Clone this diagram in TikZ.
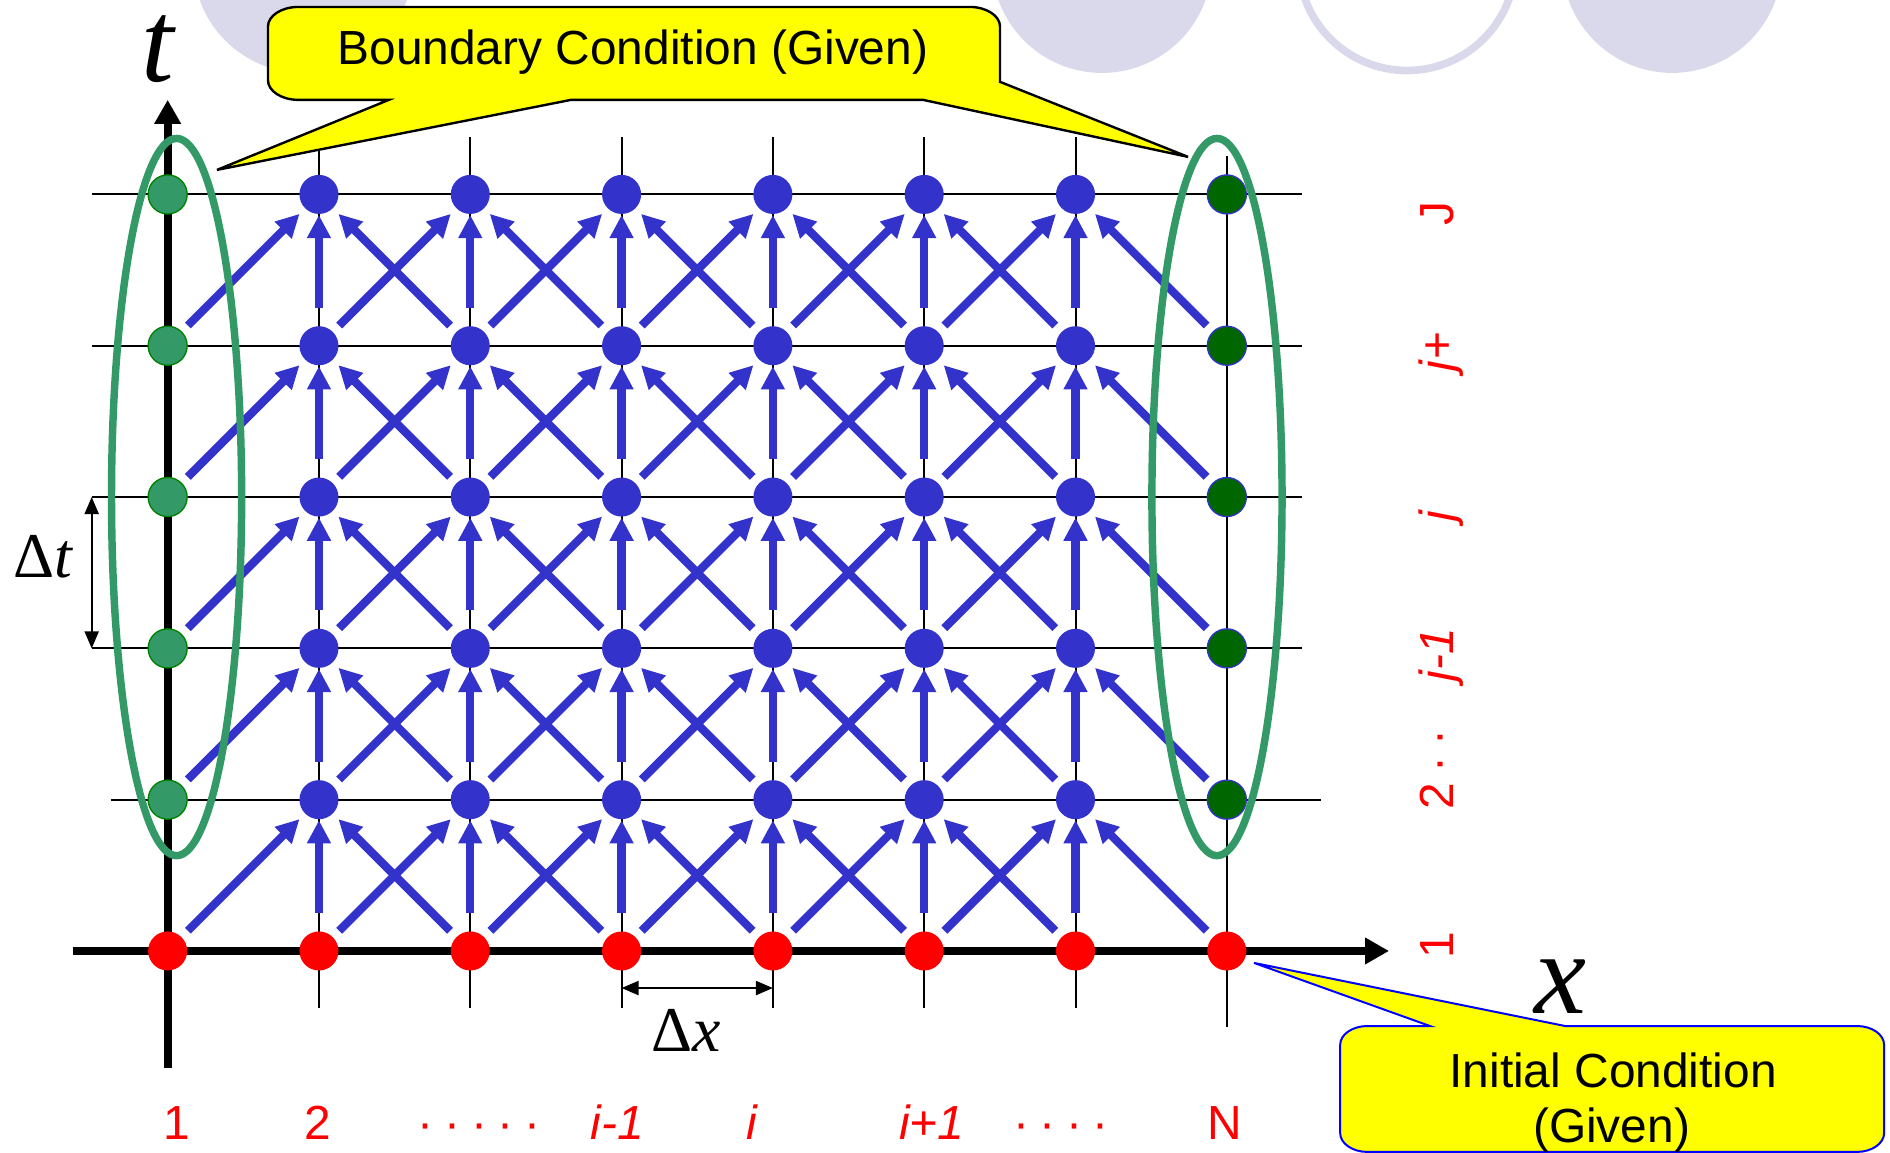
\documentclass[tikz,border=0pt]{standalone}
\usepackage{fontspec}
\setmainfont{Liberation Sans}
\newfontfamily\timesfont{Liberation Serif}
\usetikzlibrary{arrows.meta}
\definecolor{nodeblue}{HTML}{3333CC}
\definecolor{bcgreen}{HTML}{339966}
\definecolor{bcedge}{HTML}{008000}
\definecolor{bcdark}{HTML}{006600}
\definecolor{deco}{HTML}{DAD9EC}
\definecolor{note}{HTML}{FFFF00}
\definecolor{noteblue}{HTML}{0000FF}
\begin{document}
\begin{tikzpicture}[x=2cm,y=2cm,
  gridpt/.style={circle,inner sep=0pt,outer sep=0pt,minimum size=0.516cm},
  interior/.style={gridpt,fill=nodeblue},
  initpt/.style={gridpt,fill=red},
  leftpt/.style={gridpt,fill=bcgreen,draw=bcedge,line width=0.5pt},
  rightpt/.style={gridpt,fill=bcdark,draw=nodeblue,line width=0.5pt},
  flow/.style={nodeblue,line width=3.1pt,-{Triangle[length=8.7pt,width=8.5pt]}},
  diag/.style={flow,shorten <=3.4pt,shorten >=3pt},
  vert/.style={flow,shorten <=7pt,shorten >=0.4pt},
  gridline/.style={line width=0.75pt},
  axis/.style={line width=2.9pt,-{Triangle[length=9pt,width=9.5pt]}},
  dimline/.style={line width=0.7pt,{Triangle[length=6.4pt,width=5.3pt]}-{Triangle[length=6.4pt,width=5.3pt]}},
  bc/.style={bcgreen,line width=2.8pt},
  lbl/.style={red,inner sep=0pt,font=\fontsize{18}{18}\selectfont},
  rowlbl/.style={lbl,rotate=90,anchor=base west},
  axlbl/.style={inner sep=0pt,font=\timesfont\fontsize{44}{44}\selectfont\itshape},
  delta/.style={font=\timesfont\fontsize{24}{24}\selectfont},
  notetext/.style={inner sep=0pt,anchor=base,font=\fontsize{18}{18}\selectfont}]
  \useasboundingbox (-1.108,-1.335) rectangle (11.383,6.285);
  \clip (-1.108,-1.335) rectangle (11.383,6.285);

  \fill[deco] (0.896,6.53) circle [radius=0.727];
  \fill[deco] (6.175,6.53) circle [radius=0.727];
  \draw[deco,line width=2.9pt] (8.191,6.536) circle [radius=0.717];
  \fill[deco] (9.943,6.53) circle [radius=0.727];

  \foreach \j in {2,...,5} \draw[gridline] (-0.502,\j) -- (7.497,\j);
  \draw[gridline] (-0.375,1) -- (7.62,1);
  \foreach \i in {1,...,6} \draw[gridline] (\i,-0.377) -- (\i,5.38);
  \draw[gridline] (7,-0.502) -- (7,5.254);

  \draw[axis] (-0.628,0) -- (8.072,0);
  \draw[axis] (0,-0.773) -- (0,5.625);

  \foreach \i in {0,...,7} \node[initpt] (u-\i-0) at (\i,0) {};
  \foreach \j in {1,...,5} {
    \node[leftpt] (u-0-\j) at (0,\j) {};
    \node[rightpt] (u-7-\j) at (7,\j) {};
    \foreach \i in {1,...,6} \node[interior] (u-\i-\j) at (\i,\j) {};
  }

  \foreach \j in {1,...,5} {
    \pgfmathtruncatemacro{\jb}{\j-1}
    \foreach \i in {1,...,6} {
      \pgfmathtruncatemacro{\ia}{\i-1}
      \pgfmathtruncatemacro{\ic}{\i+1}
      \draw[vert] (u-\i-\jb) -- (u-\i-\j);
      \draw[diag] (u-\ia-\jb) -- (u-\i-\j);
      \draw[diag] (u-\ic-\jb) -- (u-\i-\j);
    }
  }

  \draw[bc] (0.059,3) ellipse [x radius=0.43,y radius=2.37];
  \draw[bc] (6.935,3) ellipse [x radius=0.43,y radius=2.37];

  \coordinate (dt-lo) at (-0.502,2);
  \coordinate (dt-hi) at (-0.502,3);
  \draw[dimline] (dt-lo) -- (dt-hi);
  \node[delta] (dt) at (-0.818,2.604) {Δ\textit{t}};
  \coordinate (dx-l) at (3,-0.245);
  \coordinate (dx-r) at (4,-0.245);
  \draw[dimline] (dx-l) -- (dx-r);
  \node[delta] (dx) at (3.427,-0.522) {Δ\textit{x}};

  \node[axlbl] (tlab) at (-0.064,5.96) {t};
  \node[axlbl] (xlab) at (9.202,-0.238) {x};

  \node[lbl,anchor=base] (c-1) at (0.063,-1.249) {1};
  \node[lbl,anchor=base] (c-2) at (0.994,-1.249) {2};
  \node[lbl,anchor=base] (c-dl) at (2.058,-1.249) {·\hspace{4pt}·\hspace{4pt}·\hspace{4pt}·\hspace{4pt}·};
  \node[lbl,anchor=base] (c-im) at (2.97,-1.249) {\textit{i-1}};
  \node[lbl,anchor=base] (c-i) at (3.862,-1.249) {\textit{i}};
  \node[lbl,anchor=base] (c-ip) at (5.051,-1.249) {\textit{i+1}};
  \node[lbl,anchor=base] (c-dr) at (5.904,-1.249) {·\hspace{4pt}·\hspace{4pt}·\hspace{4pt}·};
  \node[lbl,anchor=base] (c-n) at (6.988,-1.249) {N};

  \node[rowlbl] (r-1) at (8.495,-0.053) {1};
  \node[rowlbl] (r-2) at (8.495,0.932) {2\hspace{4pt}·\hspace{4pt}·};
  \node[rowlbl] (r-jm) at (8.495,1.778) {\textit{j-1}};
  \node[rowlbl] (r-j) at (8.495,2.835) {\textit{j}};
  \node[rowlbl] (r-jp) at (8.495,3.827) {\textit{j}+};
  \node[rowlbl] (r-jj) at (8.495,4.792) {J};

  \draw[fill=note,line width=0.9pt] (0.863,6.239) -- (5.301,6.239)
    arc[start angle=90,end angle=0,x radius=0.2,y radius=0.13]
    -- (5.501,5.744) -- (6.744,5.248) -- (4.992,5.625) -- (2.666,5.625)
    -- (0.326,5.162) -- (1.462,5.625) -- (0.863,5.625)
    arc[start angle=270,end angle=180,x radius=0.2,y radius=0.13]
    -- (0.663,6.109)
    arc[start angle=180,end angle=90,x radius=0.2,y radius=0.13] -- cycle;
  \node[notetext] (bcnote) at (3.075,5.856) {Boundary Condition (Given)};

  \draw[fill=note,draw=noteblue,line width=0.75pt] (7.929,-0.496) -- (8.343,-0.496)
    -- (7.18,-0.079) -- (9.236,-0.496) -- (11.164,-0.496)
    arc[start angle=90,end angle=0,x radius=0.18,y radius=0.125]
    -- (11.344,-1.203)
    arc[start angle=0,end angle=-90,x radius=0.18,y radius=0.125]
    -- (7.929,-1.328)
    arc[start angle=270,end angle=180,x radius=0.18,y radius=0.125]
    -- (7.749,-0.621)
    arc[start angle=180,end angle=90,x radius=0.18,y radius=0.125] -- cycle;
  \node[notetext] (icnote) at (9.553,-0.899) {Initial Condition};
  \node[notetext] (icgiven) at (9.543,-1.269) {(Given)};
\end{tikzpicture}
\end{document}
